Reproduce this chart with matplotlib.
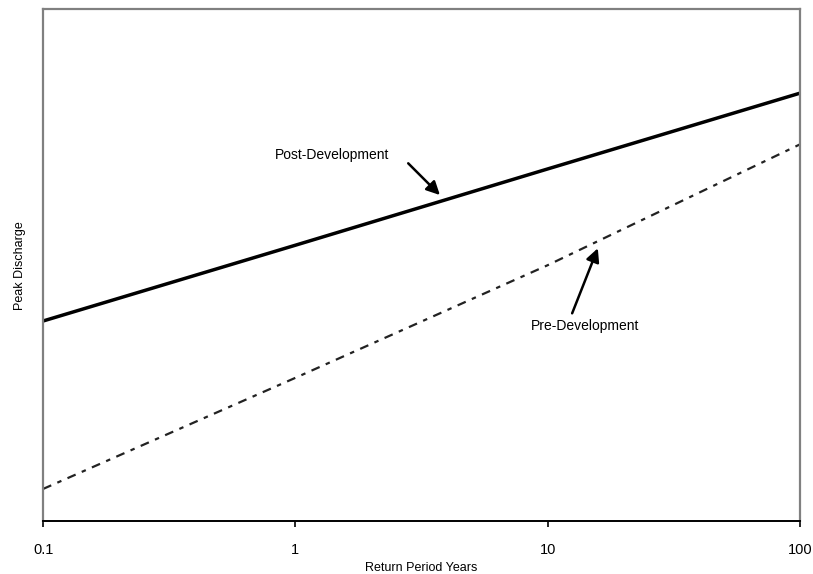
import matplotlib.pyplot as plt
from matplotlib.ticker import FixedLocator, NullLocator

plt.rcParams['font.family'] = ['Liberation Sans', 'DejaVu Sans']

# return period (years) and relative peak discharge
return_period = [0.1, 1, 10, 100]
post_dev = [39.1, 53.9, 68.8, 83.6]
pre_dev = [6.3, 28.0, 50.0, 73.6]
tick_labels = ["0.1", "1", "10", "100"]

fig = plt.figure(figsize=(8.13, 5.74), dpi=100)
ax = fig.add_axes([0.053, 0.092, 0.931, 0.892])

ax.plot(return_period, post_dev, color='black', lw=2.5, solid_capstyle='butt')
ax.plot(return_period, pre_dev, color='#222222', lw=1.6, dashes=(4, 3, 2, 3))

ax.set_xscale('log')
ax.set_xlim(0.1, 100)
ax.set_ylim(0, 100)
ax.xaxis.set_major_locator(FixedLocator(return_period))
ax.xaxis.set_minor_locator(NullLocator())
ax.set_xticklabels(tick_labels)
ax.tick_params(axis='x', length=4, width=1.2, pad=12, labelsize=10.5)
ax.set_yticks([])

for side in ['left', 'top', 'right']:
    ax.spines[side].set_color('#808080')
    ax.spines[side].set_linewidth(1.6)
ax.spines['bottom'].set_color('black')
ax.spines['bottom'].set_linewidth(1.4)

ax.set_xlabel("Return Period Years", fontsize=9, labelpad=3)
ax.set_ylabel("Peak Discharge", fontsize=9, labelpad=12)

arrow = dict(arrowstyle='-|>', color='black', lw=1.8, mutation_scale=20,
             shrinkA=0, shrinkB=0)

ax.text(1.40, 71.5, "Post-Development", fontsize=10, ha='center', va='center')
ax.annotate('', xy=(3.74, 63.7), xytext=(2.80, 69.9), arrowprops=arrow)

ax.text(14.1, 38.1, "Pre-Development", fontsize=10, ha='center', va='center')
ax.annotate('', xy=(15.8, 53.3), xytext=(12.5, 40.6), arrowprops=arrow)

fig.savefig('out.png', dpi=100)
